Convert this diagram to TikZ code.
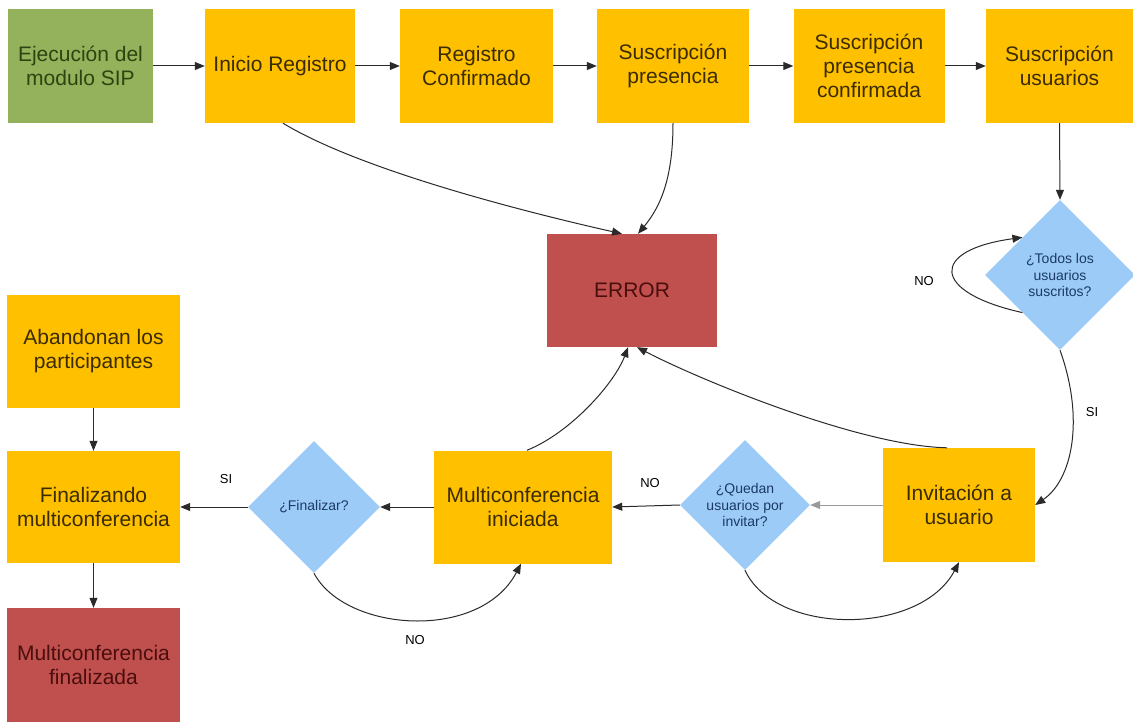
\documentclass[tikz,border=0pt]{standalone}
\usepackage{fontspec}
\setmainfont{Liberation Sans}
\usetikzlibrary{shapes.geometric,arrows.meta,calc}
\definecolor{boxorange}{HTML}{FFC000}
\definecolor{boxgreen}{HTML}{93B25B}
\definecolor{boxred}{HTML}{C0504D}
\definecolor{boxblue}{HTML}{9CCBF7}
\definecolor{txtbrown}{HTML}{3B2C00}
\definecolor{txtgreen}{HTML}{2B4510}
\definecolor{txtred}{HTML}{4A0E0E}
\definecolor{txtblue}{HTML}{1B3A66}
\definecolor{linedark}{HTML}{2A2A2A}
\definecolor{linelight}{HTML}{9A9A9A}
\begin{document}
\begin{tikzpicture}[x=1pt,y=-1pt,
  stepbox/.style={rectangle, fill=boxorange, text=txtbrown, align=center,
    inner sep=2pt, minimum height=114pt, font=\fontsize{21}{24}\selectfont},
  startbox/.style={stepbox, fill=boxgreen, text=txtgreen},
  endbox/.style={stepbox, fill=boxred, text=txtred},
  decision/.style={diamond, aspect=1, fill=boxblue, text=txtblue, align=center,
    inner sep=0pt, font=\fontsize{14}{16.5}\selectfont},
  flow/.style={draw=linedark, line width=1pt, -{Triangle[length=10pt,width=8pt]}},
  lbl/.style={font=\fontsize{13}{15}\selectfont, text=black}
]
\useasboundingbox (0,0) rectangle (1133,722);
\fill[white] (0,0) rectangle (1133,722);

% top row
\node[startbox, minimum width=145pt] (ejec) at (80.5,66) {Ejecución del\\modulo SIP};
\node[stepbox, minimum width=150pt] (inicio) at (280,66) {Inicio Registro};
\node[stepbox, minimum width=153pt] (regconf) at (476.5,66) {Registro\\Confirmado};
\node[stepbox, minimum width=152pt] (suspres) at (673,66) {Suscripción\\presencia};
\node[stepbox, minimum width=151pt] (susconf) at (869,66) {Suscripción\\presencia\\confirmada};
\node[stepbox, minimum width=147pt] (susus) at (1059.5,66) {Suscripción\\usuarios};

% error state
\node[endbox, minimum width=170pt, minimum height=113pt] (error) at (632,290.5) {ERROR};

% decision after subscription
\node[decision, minimum width=150pt, minimum height=150pt] (dtodos) at (1060,275) {¿Todos los\\usuarios\\suscritos?};

% left column
\node[stepbox, minimum width=173pt, minimum height=113pt] (aband) at (93.5,351.5) {Abandonan los\\participantes};
\node[stepbox, minimum width=173pt, minimum height=112pt] (final) at (93.5,507) {Finalizando\\multiconferencia};
\node[endbox, minimum width=173pt, minimum height=114pt] (mfin) at (93.5,665) {Multiconferencia\\finalizada};

% bottom row
\node[decision, minimum width=132pt, minimum height=132pt] (dfin) at (314,507) {¿Finalizar?};
\node[stepbox, minimum width=178pt, minimum height=113pt] (multi) at (523,507) {Multiconferencia\\iniciada};
\node[decision, minimum width=130pt, minimum height=130pt] (dqued) at (745,505) {¿Quedan\\usuarios por\\invitar?};
\node[stepbox, minimum width=152pt, minimum height=114pt] (invit) at (959,505) {Invitación a\\usuario};

% top row flow
\draw[flow] (ejec) -- (inicio);
\draw[flow] (inicio) -- (regconf);
\draw[flow] (regconf) -- (suspres);
\draw[flow] (suspres) -- (susconf);
\draw[flow] (susconf) -- (susus);
\draw[flow] (susus.south) -- (dtodos.north);

% failures into ERROR
\draw[flow] ([xshift=3pt]inicio.south) .. controls (360,170) and (525,212) .. ([xshift=-10pt]error.north);
\draw[flow] (suspres.south) .. controls (673,175) and (662,205) .. ([xshift=6pt]error.north);
\draw[flow] ([xshift=4pt]multi.north) .. controls (572,432) and (615,382) .. ([xshift=-4pt]error.south);
\draw[flow] ([xshift=-12pt]invit.north) .. controls (860,446) and (700,380) .. ([xshift=5pt]error.south);

% subscription check
\draw[flow] (dtodos.south west) .. controls (930,292) and (930,250) .. (dtodos.north west);
\node[lbl] (lno1) at (924,281) {NO};
\draw[flow] (dtodos.south) .. controls (1085,420) and (1072,480) .. (invit.east);
\node[lbl] (lsi1) at (1092,412) {SI};

% invitations
\draw[flow, draw=linelight] (invit.west) -- (dqued.east);
\draw[flow] (dqued.west) -- (multi.east);
\node[lbl] (lno2) at (650,483) {NO};
\draw[flow] (dqued.south) .. controls (775,636) and (920,636) .. (invit.south);

% closing
\draw[flow] (multi.west) -- (dfin.east);
\draw[flow] (dfin.west) -- (final.east);
\node[lbl] (lsi2) at (226,479) {SI};
\draw[flow] (dfin.south) .. controls (345,632) and (480,642) .. ([xshift=-2pt]multi.south);
\node[lbl] (lno3) at (415,640) {NO};

\draw[flow] (aband.south) -- (final.north);
\draw[flow] (final.south) -- (mfin.north);
\end{tikzpicture}
\end{document}
